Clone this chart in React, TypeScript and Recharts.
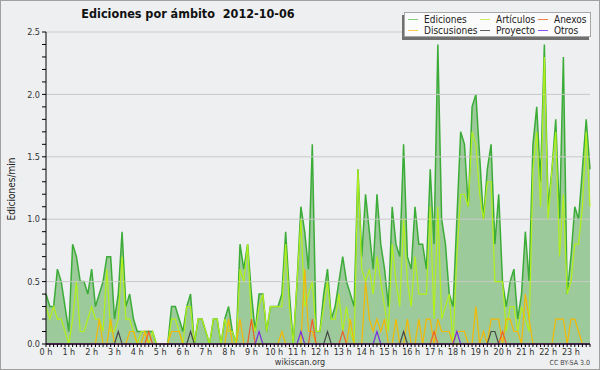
import { ComposedChart, Area, Line, XAxis, YAxis, ReferenceLine } from "recharts";

const FONT = "'DejaVu Sans Condensed', 'DejaVu Sans', sans-serif";

// one value every 10 minutes, 6 per hour, 2 hours per row
const ediciones = [
  0.4, 0.3, 0.3, 0.6, 0.5, 0.3, 0.1, 0.8, 0.7, 0.5, 0.5, 0.4,
  0.6, 0.3, 0.4, 0.5, 0.7, 0.7, 0.2, 0.4, 0.9, 0.3, 0.4, 0.2,
  0.1, 0.1, 0.1, 0.1, 0.1, 0, 0, 0, 0, 0.3, 0.3, 0.2,
  0.1, 0.3, 0.4, 0, 0.2, 0.2, 0.1, 0, 0.2, 0.2, 0, 0.2,
  0.3, 0.1, 0, 0.8, 0.6, 0.8, 0.4, 0.1, 0.4, 0.4, 0.1, 0.3,
  0.3, 0.3, 0.4, 0.9, 0.4, 0, 0.5, 1.1, 0.9, 0.6, 1.6, 0.1,
  0.1, 0.4, 0.6, 0.2, 0.3, 0.5, 0.7, 0.5, 0.4, 0.3, 1.4, 0.7,
  1.2, 0.9, 0.6, 1.2, 0.8, 0.6, 0.3, 1.1, 0.8, 0.7, 1.6, 0.7,
  0.6, 1.1, 0.8, 0.8, 0.6, 1.4, 0.8, 2.4, 1.0, 0.8, 0.4, 0.3,
  1.0, 1.7, 1.6, 1.1, 1.9, 2.0, 1.5, 1.0, 1.4, 1.6, 0.8, 1.2,
  0.5, 0.3, 0.5, 0.6, 0.2, 0.4, 0.9, 0.5, 1.6, 1.9, 1.3, 2.4,
  1.1, 1.4, 1.8, 1.0, 2.3, 0.4, 0.7, 1.1, 1.0, 1.4, 1.8, 1.4,
];

const articulos = [
  0.3, 0.2, 0.3, 0.2, 0.2, 0.1, 0, 0.2, 0.5, 0.1, 0.1, 0.2,
  0.3, 0.2, 0.2, 0.1, 0.6, 0.1, 0.1, 0.2, 0.7, 0.2, 0.2, 0.1,
  0, 0.1, 0.1, 0, 0.1, 0, 0, 0, 0, 0.2, 0.2, 0.1,
  0, 0.3, 0.3, 0, 0.2, 0.2, 0.1, 0, 0.2, 0.2, 0, 0.2,
  0.1, 0.1, 0, 0.6, 0.5, 0.8, 0.2, 0.1, 0.3, 0.4, 0.1, 0.3,
  0.3, 0.3, 0.3, 0.8, 0.3, 0, 0.5, 1.0, 0.3, 0.4, 0.5, 0.1,
  0.1, 0.3, 0.5, 0.2, 0.2, 0.4, 0.1, 0.3, 0.1, 0, 1.4, 0.6,
  0.5, 0.6, 0.4, 0.7, 0.5, 0.3, 0.1, 0.8, 0.5, 0.3, 1.0, 0.5,
  0.3, 0.7, 0.4, 0.4, 0.4, 1.1, 0.2, 1.1, 0.2, 0.3, 0.4, 0,
  0.7, 1.2, 1.2, 1.1, 1.7, 1.6, 1.2, 1.0, 1.3, 1.3, 0.5, 0.5,
  0.5, 0.1, 0.3, 0.3, 0.1, 0.3, 0.2, 0.1, 1.4, 1.7, 1.1, 2.3,
  1.0, 1.4, 1.7, 0.7, 1.2, 0.4, 0.5, 0.8, 0.8, 1.1, 1.7, 1.1,
];

const discusiones = [
  0, 0, 0, 0, 0, 0, 0, 0, 0, 0, 0, 0,
  0, 0, 0.2, 0, 0, 0.2, 0, 0, 0, 0, 0.1, 0.1,
  0, 0, 0.1, 0, 0, 0, 0, 0, 0, 0.1, 0.1, 0.1,
  0, 0, 0, 0, 0, 0, 0, 0, 0, 0, 0, 0,
  0.2, 0, 0, 0.2, 0, 0, 0, 0, 0, 0, 0, 0,
  0, 0, 0.1, 0, 0, 0, 0, 0, 0.6, 0.1, 0.1, 0,
  0, 0, 0, 0, 0, 0, 0, 0, 0.2, 0, 0, 0,
  0.5, 0.2, 0.1, 0.2, 0.1, 0.2, 0, 0, 0.2, 0, 0, 0.2,
  0, 0, 0.2, 0, 0.2, 0.2, 0, 0.2, 0.1, 0.1, 0.1, 0,
  0.1, 0.1, 0.1, 0, 0, 0.3, 0, 0.1, 0, 0.2, 0.2, 0.2,
  0, 0.2, 0.2, 0.1, 0.1, 0, 0.4, 0.2, 0, 0, 0, 0,
  0, 0, 0.2, 0.2, 0.2, 0, 0.2, 0.2, 0.1, 0, 0, 0,
];

const anexos = [
  0, 0, 0, 0, 0, 0, 0, 0, 0, 0, 0, 0,
  0, 0, 0, 0, 0, 0, 0, 0, 0, 0, 0, 0,
  0, 0, 0, 0.1, 0, 0, 0, 0, 0, 0, 0, 0,
  0, 0, 0, 0, 0, 0, 0, 0, 0, 0, 0, 0,
  0, 0, 0, 0, 0, 0, 0.2, 0, 0, 0, 0, 0,
  0, 0, 0, 0, 0, 0, 0, 0, 0, 0, 0.2, 0,
  0, 0, 0, 0, 0, 0, 0.1, 0, 0, 0, 0, 0,
  0, 0, 0, 0, 0, 0, 0, 0, 0, 0, 0, 0,
  0, 0, 0, 0, 0, 0, 0.1, 0, 0, 0, 0, 0,
  0, 0, 0, 0, 0, 0, 0, 0, 0, 0, 0, 0,
  0.1, 0, 0, 0, 0, 0, 0, 0, 0, 0, 0, 0,
  0, 0, 0, 0, 0, 0, 0, 0, 0, 0, 0, 0,
];

const proyecto = [
  0, 0, 0, 0, 0, 0, 0, 0, 0, 0, 0, 0,
  0, 0, 0, 0, 0, 0, 0, 0.1, 0, 0, 0, 0,
  0, 0, 0, 0, 0, 0, 0, 0, 0, 0, 0, 0,
  0, 0, 0.1, 0, 0, 0, 0, 0, 0, 0, 0, 0,
  0, 0, 0, 0, 0, 0, 0, 0, 0, 0, 0, 0,
  0, 0, 0, 0, 0, 0, 0, 0, 0, 0, 0, 0,
  0, 0, 0.1, 0, 0, 0, 0, 0, 0, 0, 0, 0,
  0, 0, 0, 0, 0, 0, 0, 0, 0, 0, 0.1, 0,
  0, 0, 0, 0, 0, 0, 0, 0, 0, 0, 0, 0,
  0, 0, 0, 0, 0, 0, 0, 0, 0, 0.1, 0.1, 0,
  0, 0, 0, 0, 0, 0, 0, 0, 0, 0, 0, 0,
  0, 0, 0, 0, 0, 0, 0, 0, 0, 0, 0, 0,
];

const otros = [
  0, 0, 0, 0, 0, 0, 0, 0, 0, 0, 0, 0,
  0, 0, 0, 0, 0, 0, 0, 0, 0, 0, 0, 0,
  0, 0, 0, 0, 0, 0, 0, 0, 0, 0, 0, 0,
  0, 0, 0, 0, 0, 0, 0, 0, 0, 0, 0, 0,
  0, 0, 0, 0, 0, 0, 0, 0, 0.1, 0, 0, 0,
  0, 0, 0, 0, 0, 0, 0, 0.1, 0, 0, 0, 0,
  0, 0, 0, 0, 0, 0, 0, 0, 0, 0, 0, 0,
  0, 0, 0, 0.1, 0, 0, 0, 0, 0, 0, 0, 0,
  0, 0, 0, 0, 0, 0, 0, 0, 0, 0, 0, 0,
  0.1, 0, 0, 0, 0, 0, 0, 0, 0, 0, 0, 0,
  0, 0, 0, 0, 0, 0, 0, 0, 0, 0, 0, 0,
  0, 0, 0, 0, 0, 0, 0, 0, 0, 0, 0, 0,
];

const hourLabels = [
  "0 h", "1 h", "2 h", "3 h", "4 h", "5 h", "6 h", "7 h", "8 h", "9 h", "10 h", "11 h",
  "12 h", "13 h", "14 h", "15 h", "16 h", "17 h", "18 h", "19 h", "20 h", "21 h", "22 h", "23 h",
];

const yTicks = [
  0, 0.1, 0.2, 0.3, 0.4, 0.5, 0.6, 0.7, 0.8, 0.9, 1.0, 1.1, 1.2,
  1.3, 1.4, 1.5, 1.6, 1.7, 1.8, 1.9, 2.0, 2.1, 2.2, 2.3, 2.4, 2.5,
];
const gridValues = [0.5, 1.0, 1.5, 2.0, 2.5];

const series = [
  { key: "ediciones", name: "Ediciones", color: "#3cac38", legend: "#7fd07a" },
  { key: "articulos", name: "Artículos", color: "#b2f01a", legend: "#c8f060" },
  { key: "discusiones", name: "Discusiones", color: "#f4b800", legend: "#f8cc50" },
  { key: "anexos", name: "Anexos", color: "#f0602a", legend: "#f08050" },
  { key: "proyecto", name: "Proyecto", color: "#484848", legend: "#606060" },
  { key: "otros", name: "Otros", color: "#7a2ce0", legend: "#9050f0" },
];
// legend reads row by row, three columns
const legendOrder = ["ediciones", "articulos", "anexos", "discusiones", "proyecto", "otros"];

const data = ediciones.map((v, i) => ({
  slot: i,
  ediciones: v,
  articulos: articulos[i],
  discusiones: discusiones[i],
  anexos: anexos[i],
  proyecto: proyecto[i],
  otros: otros[i],
}));
const slots = data.map((d) => d.slot);

function HourTick(props: any) {
  const { x, y, payload } = props;
  if (payload.value % 6 !== 0) return <g />;
  return (
    <text x={x} y={y} dy={6} textAnchor="middle" fontSize={9} fill="#333" fontFamily={FONT}>
      {hourLabels[payload.value / 6]}
    </text>
  );
}

function LegendBox() {
  const widths = [72, 58, 56];
  return (
    <div
      style={{
        position: "absolute",
        left: 404,
        top: 12,
        width: 187,
        height: 25,
        boxSizing: "border-box",
        background: "#fbfbfb",
        border: "1px solid #a8a8a8",
        boxShadow: "-2px 3px 0 #707070",
        display: "grid",
        gridTemplateColumns: widths.map((w) => w + "px").join(" "),
        paddingTop: 1,
        paddingLeft: 3,
        fontFamily: FONT,
        fontSize: 10,
        lineHeight: "10px",
        color: "#222",
      }}
    >
      {legendOrder.map((k) => {
        const s = series.find((x) => x.key === k)!;
        return (
          <div key={k} style={{ display: "flex", alignItems: "center", whiteSpace: "nowrap" }}>
            <span style={{ width: 10, height: 1, background: s.legend, marginRight: 6, display: "inline-block" }} />
            {s.name}
          </div>
        );
      })}
    </div>
  );
}

export default function App() {
  return (
    <div
      style={{
        position: "absolute",
        left: 0,
        top: 0,
        width: 600,
        height: 370,
        background: "#eeeff1",
        boxShadow: "inset 0 0 0 1px #a0a0a0",
        fontFamily: FONT,
      }}
    >
      <ComposedChart width={600} height={370} data={data} margin={{ top: 32, right: 10, bottom: 0, left: 0 }}>
        {gridValues.map((v) => (
          <ReferenceLine key={v} y={v} stroke="#c9c9c9" strokeWidth={1} />
        ))}
        <Area
          type="linear"
          dataKey="ediciones"
          name="Ediciones"
          stroke="#3cac38"
          strokeWidth={1.5}
          fill="#9dca9a"
          fillOpacity={1}
          dot={false}
          activeDot={false}
          isAnimationActive={false}
        />
        {series.slice(1).map((s) => (
          <Line
            key={s.key}
            type="linear"
            dataKey={s.key}
            name={s.name}
            stroke={s.color}
            strokeWidth={1.2}
            dot={false}
            activeDot={false}
            isAnimationActive={false}
          />
        ))}
        <XAxis
          type="number"
          dataKey="slot"
          domain={[0, 143]}
          ticks={slots}
          interval={0}
          height={26}
          tickSize={3}
          axisLine={{ stroke: "#000" }}
          tickLine={{ stroke: "#000" }}
          tick={<HourTick />}
        />
        <YAxis
          type="number"
          domain={[0, 2.5]}
          ticks={yTicks}
          interval={0}
          width={46}
          tickSize={4}
          tickMargin={2}
          axisLine={{ stroke: "#000" }}
          tickLine={{ stroke: "#000" }}
          tick={{ fontSize: 9, fill: "#333", fontFamily: FONT }}
          tickFormatter={(v: number) => (Math.round(v * 10) % 5 === 0 ? v.toFixed(1) : "")}
        />
      </ComposedChart>
      <LegendBox />
      <svg
        width={600}
        height={370}
        style={{ position: "absolute", left: 0, top: 0, pointerEvents: "none" }}
        fontFamily={FONT}
      >
        <text x={188} y={18} textAnchor="middle" fontSize={12.5} fontWeight="bold" fill="#111" style={{ whiteSpace: "pre" }}>
          {"Ediciones por ámbito  2012-10-06"}
        </text>
        <text transform="translate(15,189) rotate(-90)" textAnchor="middle" fontSize={10} fill="#222">
          Ediciones/min
        </text>
        <text x={300} y={365} textAnchor="middle" fontSize={9} fill="#333">
          wikiscan.org
        </text>
        <text x={590} y={365} textAnchor="end" fontSize={7} fill="#444">
          CC BY-SA 3.0
        </text>
      </svg>
    </div>
  );
}
